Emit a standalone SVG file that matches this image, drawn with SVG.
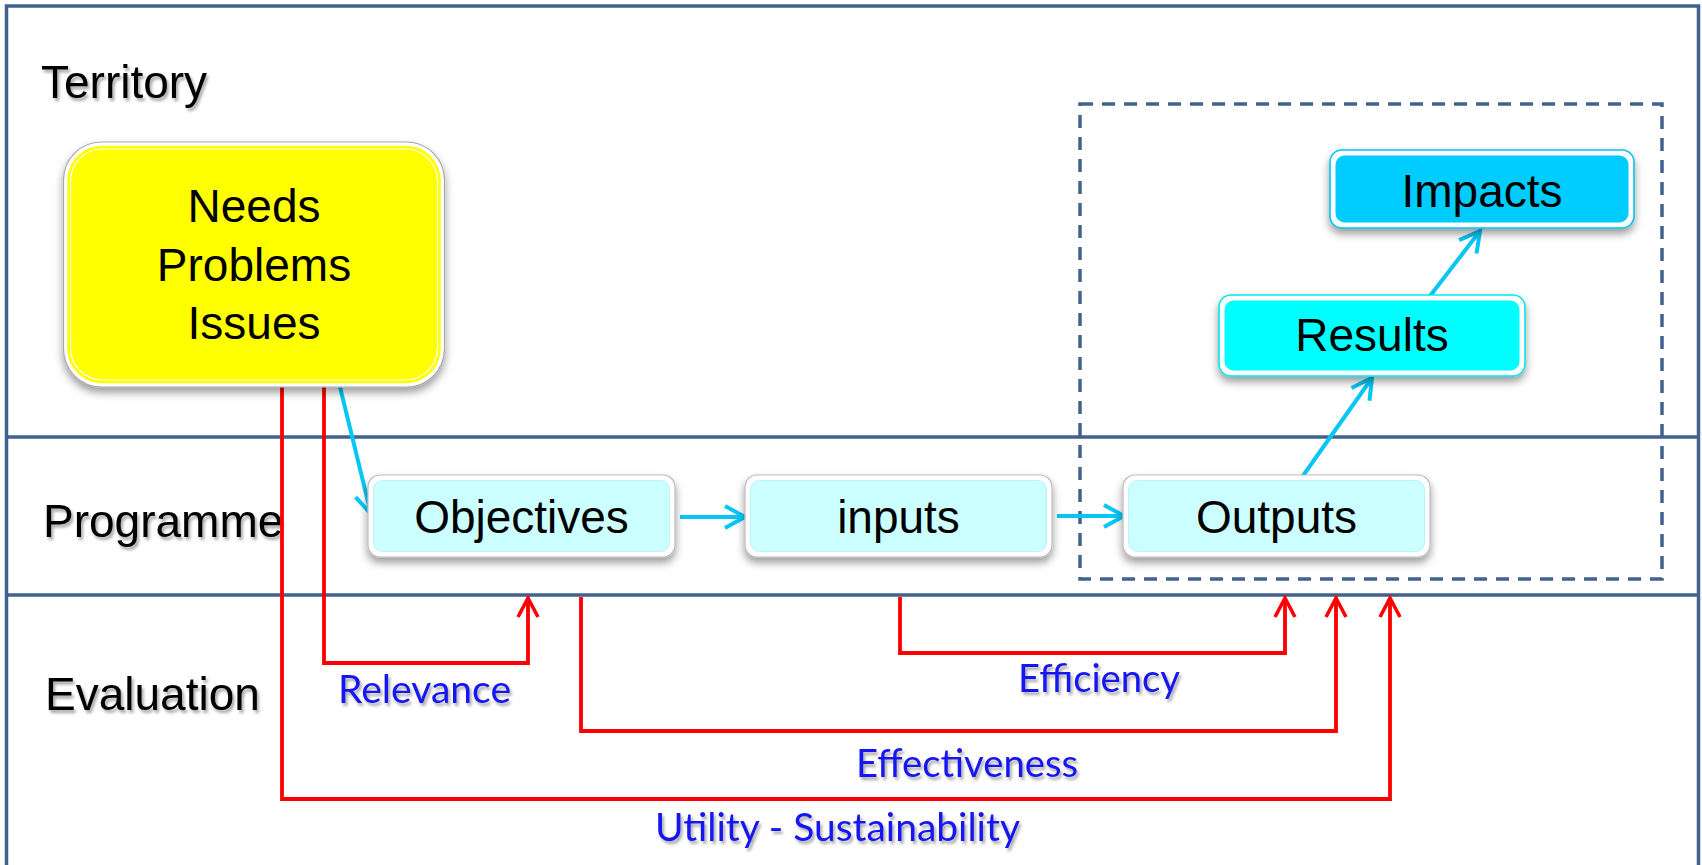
<svg xmlns="http://www.w3.org/2000/svg" width="1702" height="865" viewBox="0 0 1702 865">
<defs>
<style>
.frame{fill:none;stroke:#41628F;stroke-width:3.5}
.dash{fill:none;stroke:#41628F;stroke-width:3.5;stroke-dasharray:13 9}
.lab{font-family:"Liberation Sans",Arial,sans-serif;font-size:46px;fill:#000}
.box{font-family:"Liberation Sans",Arial,sans-serif;font-size:46px;fill:#000;text-anchor:middle}
.ev{font-family:Lato,"Liberation Sans",sans-serif;font-size:38px;fill:#1414F0}
.blue{fill:none;stroke:#06C6F6;stroke-width:4}
.red{fill:none;stroke:#FF0000;stroke-width:3.8}
</style>
<filter id="sh" x="-10%" y="-10%" width="120%" height="130%">
<feDropShadow dx="0" dy="5" stdDeviation="4" flood-color="#000" flood-opacity="0.4"/>
</filter>
<filter id="tsh" x="-5%" y="-20%" width="110%" height="150%">
<feDropShadow dx="2" dy="3" stdDeviation="1.5" flood-color="#000" flood-opacity="0.35"/>
</filter>
<marker id="ab" markerUnits="userSpaceOnUse" markerWidth="30" markerHeight="30" viewBox="0 0 30 30" refX="25" refY="15" orient="auto">
<path d="M5,4 L25,15 L5,26" fill="none" stroke="#06C6F6" stroke-width="4" stroke-linejoin="miter"/>
</marker>
<marker id="ar" markerUnits="userSpaceOnUse" markerWidth="26" markerHeight="26" viewBox="0 0 26 26" refX="21" refY="13" orient="auto">
<path d="M2,3 L21,13 L2,23" fill="none" stroke="#FF0000" stroke-width="3.6" stroke-linejoin="miter"/>
</marker>
</defs>
<rect x="0" y="0" width="1702" height="865" fill="#fff"/>

<g id="frame">
<path class="frame" d="M6.5,870 V6 H1698.5 V870"/>
<line class="frame" x1="6" y1="437" x2="1699" y2="437"/>
<line class="frame" x1="6" y1="595" x2="1699" y2="595"/>
<rect class="dash" x="1080" y="104" width="582" height="475"/>
</g>

<g id="labels" filter="url(#tsh)">
<text class="lab" x="41" y="98">Territory</text>
<text class="lab" x="43" y="537">Programme</text>
<text class="lab" x="45" y="710">Evaluation</text>
</g>

<g id="connectors">
<path class="red" d="M282,387 V799 H1390 V598" marker-end="url(#ar)"/>
<path class="red" d="M324,387 V663 H528 V598" marker-end="url(#ar)"/>
<path class="red" d="M581,597 V731 H1336 V598" marker-end="url(#ar)"/>
<path class="red" d="M900,597 V653 H1285 V598" marker-end="url(#ar)"/>
<path class="blue" d="M340,387 L371,514" marker-end="url(#ab)"/>
<path class="blue" d="M680,517 L745,517" marker-end="url(#ab)"/>
<path class="blue" d="M1057,516 L1124,516" marker-end="url(#ab)"/>
<path class="blue" d="M1300,480 L1372,378" marker-end="url(#ab)"/>
<path class="blue" d="M1430,296 L1480,231" marker-end="url(#ab)"/>
</g>

<g id="needs">
<g filter="url(#sh)">
<rect x="63.5" y="142" width="381" height="245" rx="38" fill="#fff" stroke="#A8A8A8" stroke-width="1.2"/>
</g>
<rect x="68" y="146.5" width="372" height="236" rx="34" fill="#FFFF00" stroke="#FFFF00" stroke-width="1.5"/>
<rect x="70.5" y="149" width="367" height="231" rx="32" fill="none" stroke="#fff" stroke-width="1.2"/>
<text class="box" x="254" y="222">Needs</text>
<text class="box" x="254" y="281">Problems</text>
<text class="box" x="254" y="339">Issues</text>
</g>

<g id="objectives">
<rect x="368" y="475" width="307" height="82" rx="12" fill="#fff" stroke="#BBBBBB" stroke-width="1.2" filter="url(#sh)"/>
<rect x="373.5" y="480.5" width="296" height="71" rx="9" fill="#CCFFFF" stroke="#B8F4F8" stroke-width="1"/>
<text class="box" x="521.5" y="533">Objectives</text>
</g>

<g id="inputs">
<rect x="745" y="475" width="307" height="82" rx="12" fill="#fff" stroke="#BBBBBB" stroke-width="1.2" filter="url(#sh)"/>
<rect x="750.5" y="480.5" width="296" height="71" rx="9" fill="#CCFFFF" stroke="#B8F4F8" stroke-width="1"/>
<text class="box" x="898.5" y="533">inputs</text>
</g>

<g id="outputs">
<rect x="1123" y="475" width="307" height="82" rx="12" fill="#fff" stroke="#BBBBBB" stroke-width="1.2" filter="url(#sh)"/>
<rect x="1128.5" y="480.5" width="296" height="71" rx="9" fill="#CCFFFF" stroke="#B8F4F8" stroke-width="1"/>
<text class="box" x="1276.5" y="533">Outputs</text>
</g>

<g id="results">
<rect x="1219" y="295" width="306" height="81" rx="12" fill="#fff" stroke="#00E8F0" stroke-width="1.6" filter="url(#sh)"/>
<rect x="1224.5" y="300.5" width="295" height="70" rx="9" fill="#00FFFF"/>
<text class="box" x="1372" y="351">Results</text>
</g>

<g id="impacts">
<rect x="1330" y="150" width="304" height="78" rx="12" fill="#fff" stroke="#00C4F4" stroke-width="1.6" filter="url(#sh)"/>
<rect x="1335.5" y="155.5" width="293" height="67" rx="9" fill="#00CCFF"/>
<text class="box" x="1482" y="207">Impacts</text>
</g>

<g id="criteria" filter="url(#tsh)">
<text class="ev" x="338" y="703" textLength="173" lengthAdjust="spacingAndGlyphs">Relevance</text>
<text class="ev" x="1018" y="692" textLength="162" lengthAdjust="spacingAndGlyphs">Efficiency</text>
<text class="ev" x="856" y="777" textLength="222" lengthAdjust="spacingAndGlyphs">Effectiveness</text>
<text class="ev" x="655" y="841" textLength="365" lengthAdjust="spacingAndGlyphs">Utility - Sustainability</text>
</g>
</svg>
